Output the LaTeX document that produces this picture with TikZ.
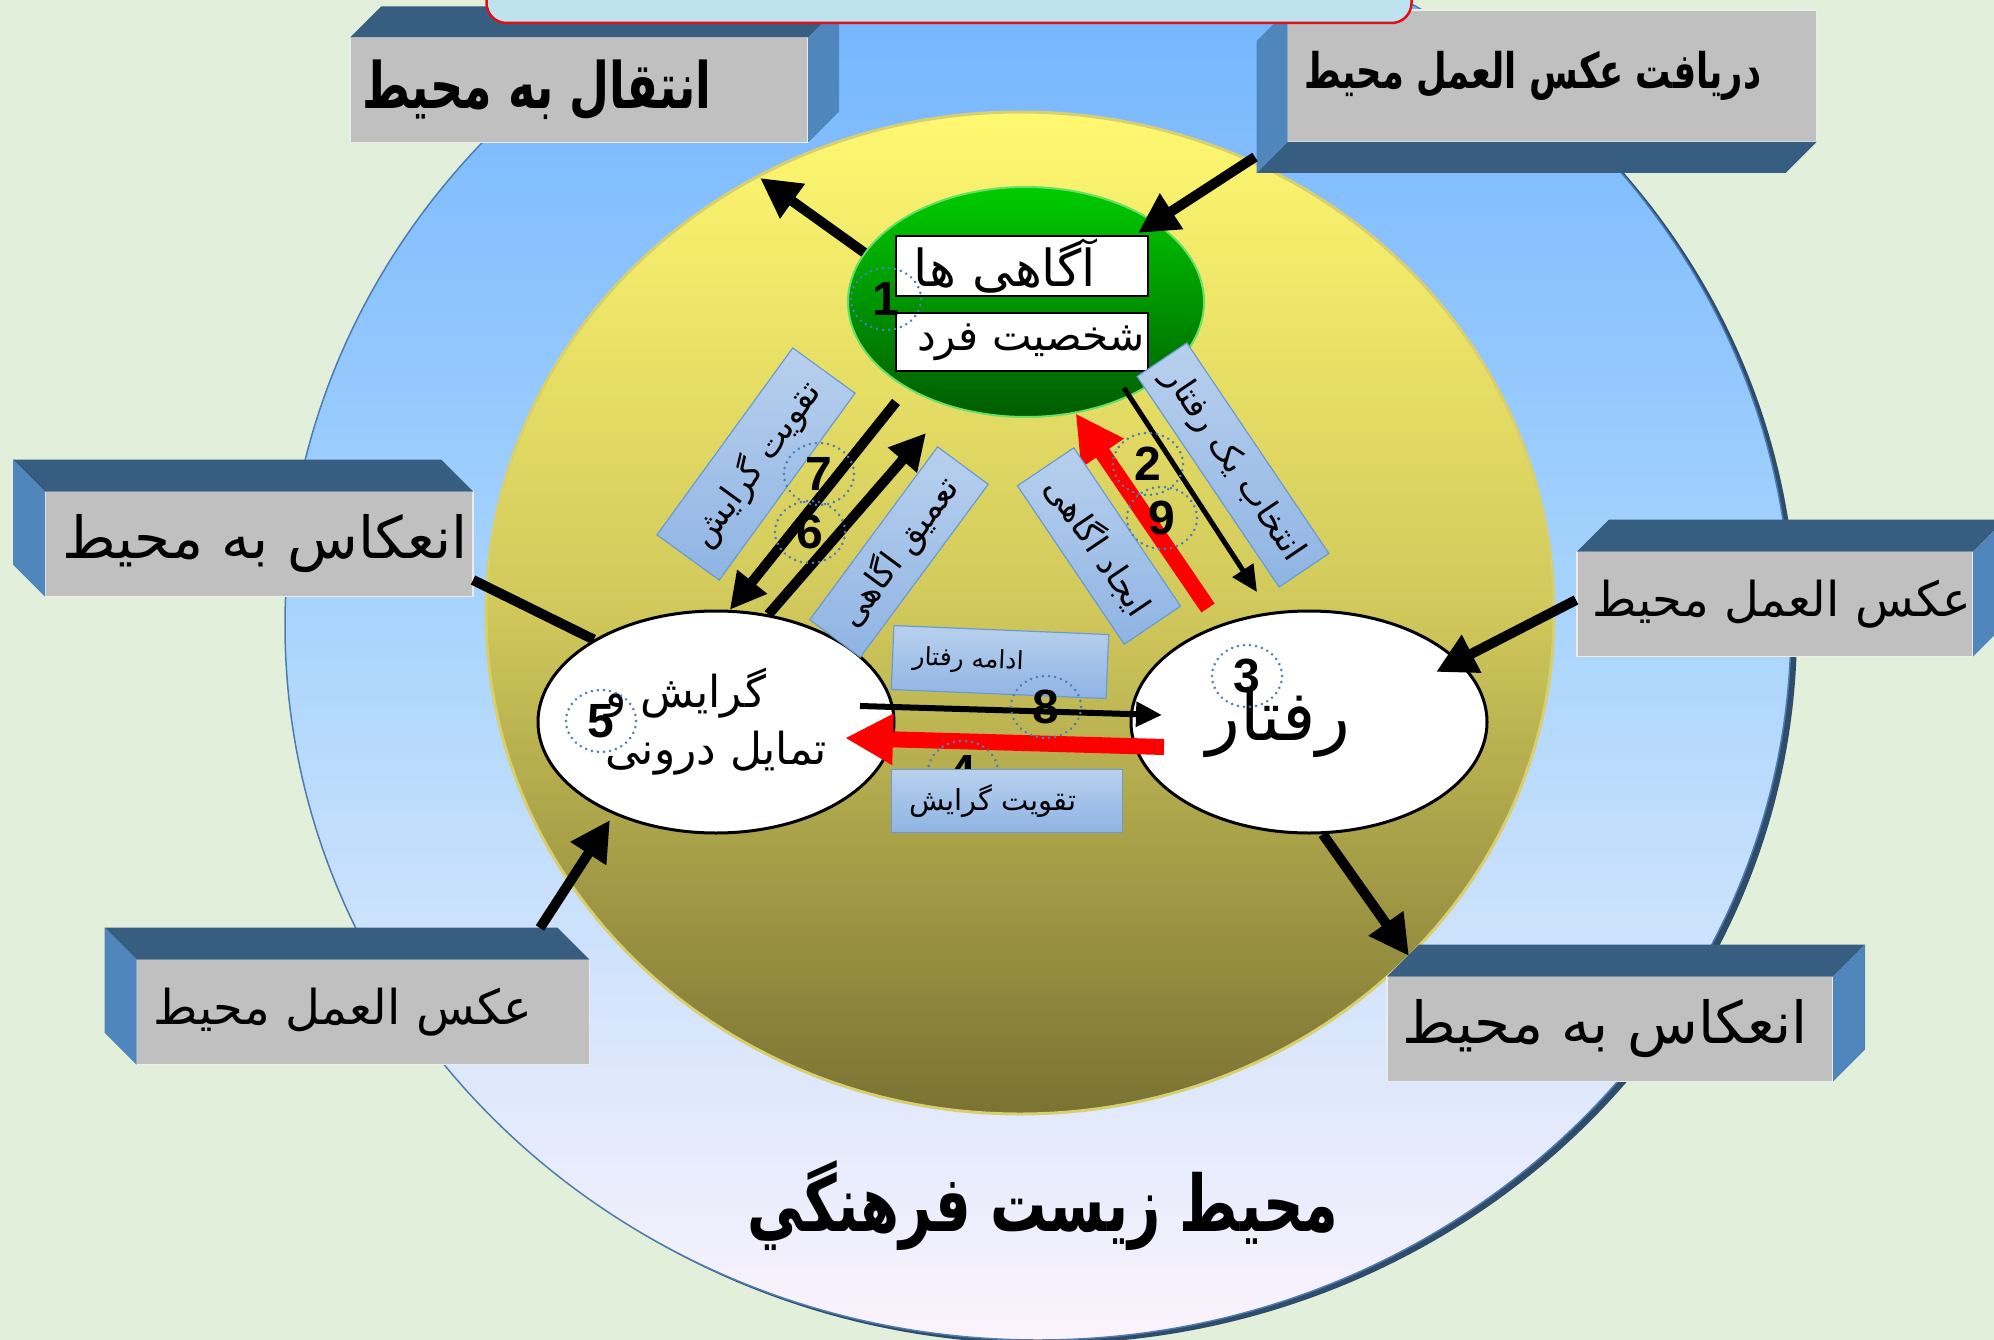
\documentclass[tikz,border=0pt]{standalone}
\usepackage{fontspec}
\setmainfont{Liberation Sans}
\newfontfamily\fa[Script=Arabic]{DejaVu Sans}
\newfontfamily\facond[Script=Arabic,FakeStretch=0.72]{DejaVu Sans}
\TeXXeTstate=1
\usetikzlibrary{arrows.meta,shapes.geometric}

\definecolor{bgcol}{HTML}{E2EFDA}
\definecolor{skytop}{HTML}{6DB1FF}
\definecolor{skymid}{HTML}{A9D5FC}
\definecolor{skybot}{HTML}{FCF3FC}
\definecolor{skyrim}{HTML}{2F4D6B}
\definecolor{yeltop}{HTML}{FFF870}
\definecolor{yelmid}{HTML}{D0C85B}
\definecolor{yelbot}{HTML}{7A7232}
\definecolor{yelrim}{HTML}{D8D070}
\definecolor{grntop}{HTML}{00CC00}
\definecolor{grnbot}{HTML}{005C00}
\definecolor{boxgray}{HTML}{C0C0C0}
\definecolor{boxtop}{HTML}{375E80}
\definecolor{boxside}{HTML}{4F86BB}
\definecolor{lbltop}{HTML}{B8D0EE}
\definecolor{lblbot}{HTML}{8FB4E3}
\definecolor{lblline}{HTML}{6C9BD2}
\definecolor{ringcol}{HTML}{4A7EBB}
\definecolor{bannerfill}{HTML}{BDE4EE}
\definecolor{bannerline}{HTML}{E0101A}

\newcommand\rl[1]{\beginR #1\endR}
% faces of a box: node, top/bottom edge, side edge, depth
\newcommand\faces[4]{%
  \fill[boxtop] (#1.#2 west) -- ++#4 -- ([shift={#4}]#1.#2 east) -- (#1.#2 east) -- cycle;
  \fill[boxside] (#1.north #3) -- ++#4 -- ([shift={#4}]#1.south #3) -- (#1.south #3) -- cycle;}

\begin{document}
\begin{tikzpicture}[x=1pt,y=-1pt,
  front/.style={fill=boxgray,draw=white!85!gray,line width=1.5,inner sep=0,outer sep=0,minimum height=105,font=\fontsize{52}{60}\selectfont\fa},
  oval/.style={ellipse,draw,line width=3,fill=white,minimum width=356,minimum height=222,inner sep=0,font=\fontsize{44}{57}\selectfont\fa},
  tag/.style={draw,line width=2.5,fill=white,minimum width=252,inner sep=0,font=\fontsize{46}{52}\selectfont\fa},
  lbl/.style={draw=lblline,line width=1.2,top color=lbltop,bottom color=lblbot,inner sep=0,font=\fontsize{34}{40}\selectfont\fa},
  ring/.style={ellipse,draw=ringcol,line width=2.8,line cap=round,dash pattern=on 0.1pt off 6pt,minimum width=70,minimum height=62,inner sep=0,font=\fontsize{48}{54}\selectfont\bfseries},
  fat/.style={line width=10,-{Triangle[length=40pt,width=40pt]}},
  slim/.style={line width=5,-{Triangle[length=26pt,width=24pt]}},
  redfat/.style={draw=red,line width=16,-{Triangle[length=48pt,width=48pt]}}]

\clip (0,0) rectangle (1994,1340);
\fill[bgcol] (0,0) rectangle (1994,1340);

% environment
\fill[skyrim] (1044,629) ellipse [x radius=753pt,y radius=715pt];
\shadedraw[top color=skytop,bottom color=skybot,middle color=skymid,draw=skytop!70!black,line width=1.5]
  (1038,625) ellipse [x radius=753pt,y radius=715pt];
\shadedraw[top color=yeltop,bottom color=yelbot,middle color=yelmid,draw=yelrim,line width=3]
  (1020,613) ellipse [x radius=534pt,y radius=501pt];

% boxes
\node[front,minimum width=458,font=\fontsize{64}{70}\selectfont\bfseries\facond] (b1) at (579,90) {\rl{انتقال به محیط}\hspace*{84pt}};
\faces{b1}{north}{east}{(31,-31)}
\node[front,minimum width=529,minimum height=132,font=\fontsize{49}{55}\selectfont\bfseries\facond] (b2) at (1552,76) {\rl{دریافت عکس العمل محیط}\hspace*{38pt}};
\faces{b2}{south}{west}{(-31,31)}
\node[front,minimum width=428,font=\fontsize{58}{64}\selectfont\fa] (b3) at (259,544) {\hspace*{12pt}\rl{انعکاس به محیط}};
\faces{b3}{north}{west}{(-32,-32)}
\node[front,minimum width=396,font=\fontsize{48}{54}\selectfont\fa] (b4) at (1775,604) {\hspace*{14pt}\rl{عکس العمل محیط}};
\faces{b4}{north}{east}{(32,-32)}
\node[front,minimum width=453,font=\fontsize{48}{54}\selectfont\fa] (b5) at (363,1012) {\rl{عکس العمل محیط}\hspace*{40pt}};
\faces{b5}{north}{west}{(-32,-32)}
\node[front,minimum width=446,font=\fontsize{58}{64}\selectfont\fa] (b6) at (1610,1029) {\rl{انعکاس به محیط}\hspace*{10pt}};
\faces{b6}{north}{east}{(32,-32)}

\node[draw=bannerline,fill=bannerfill,line width=2.5,rounded corners=20,minimum width=925,minimum height=70] (banner) at (949,-12) {};

% inner parts
\node[ellipse,minimum width=356,minimum height=230,top color=grntop,bottom color=grnbot,draw=grntop!60!white,line width=2] (green) at (1026,302) {};
\node[tag,minimum height=60,font=\fontsize{51}{56}\selectfont\fa] (k1) at (1022,266) {\rl{آگاهی ها}\hspace*{34pt}};
\node[tag,minimum height=58,font=\fontsize{42}{48}\selectfont\fa] (k2) at (1022,342) {\hspace*{18pt}\rl{شخصیت فرد}};
\node[oval,align=left] (attitude) at (716,722) {\rl{گرایش و}\\\rl{تمایل درونی}};
\node[oval,font=\fontsize{70}{80}\selectfont\fa] (behavior) at (1309,722) {\rl{رفتار}\hspace*{62pt}};

\coordinate (t1) at (760,178);
\coordinate (s2) at (1255,157);
\coordinate (t2) at (1138,233);
\coordinate (s3) at (473,580);
\coordinate (s4) at (1576,600);
\coordinate (t4) at (1436,672);
\coordinate (s5) at (540,928);
\coordinate (t5) at (610,820);
\coordinate (t6) at (1409,956);
\coordinate (s7) at (896,402);
\coordinate (t6i) at (926,433);
\coordinate (s2i) at (1124,388);
\coordinate (t2i) at (1257,592);
\coordinate (s9) at (1208,608);
\coordinate (s8) at (860,706);
\coordinate (t8) at (1162,715);
\coordinate (s4i) at (1164,747);
\coordinate (t4i) at (845,738);

\draw[line width=10] (s3) -- (attitude.146);
\path
  (green.163) edge[fat] (t1)
  (s2) edge[fat] (t2)
  (s4) edge[fat] (t4)
  (s5) edge[fat] (t5)
  (behavior.-83) edge[fat] (t6)
  (s7) edge[fat,-{Triangle[length=36pt,width=36pt]}] (attitude.83)
  (attitude.64) edge[fat,-{Triangle[length=36pt,width=36pt]}] (t6i)
  (s2i) edge[slim] (t2i)
  (s9) edge[redfat] (green.-66)
  (s8) edge[slim,line width=6] (t8)
  (s4i) edge[redfat] (t4i)
  ;

% labels on the links
\node[lbl,rotate=54,minimum width=231,minimum height=77] (l7) at (756,464) {\rl{تقویت گرایش}};
\node[lbl,rotate=53.5,minimum width=215,minimum height=63] (l6) at (899,552) {\rl{تعمیق اگاهی}};
\node[lbl,rotate=-56,minimum width=191,minimum height=68] (l9) at (1099,546) {\rl{ایجاد اگاهی}};
\node[lbl,rotate=-56,minimum width=254,minimum height=60] (l2) at (1233,465) {\rl{انتخاب یک رفتار}};
\node[lbl,rotate=-2.4,minimum width=215,minimum height=64,font=\fontsize{25}{30}\selectfont\fa] (l8) at (1000,662) {\rl{ادامه رفتار}\hspace*{64pt}};

% step numbers
\node[ring] (n1) at (886,299) {1};
\node[ring] (n2) at (1148,464) {2};
\node[ring] (n9) at (1162,518) {9};
\node[ring] (n3) at (1247,676) {3};
\node[ring] (n5) at (601,721) {5};
\node[ring] (n8) at (1046,707) {8};
\node[ring] (n7) at (819,474) {7};
\node[ring] (n6) at (810,532) {6};
\node[ring] (n4) at (963,772) {4};

\node[lbl,minimum width=231,minimum height=63,font=\fontsize{29}{34}\selectfont\fa] (l4) at (1007,801) {\rl{تقویت گرایش}\hspace*{28pt}};

\node[font=\fontsize{78}{86}\selectfont\bfseries\facond] (title) at (1043,1206) {\rl{محیط زیست فرهنگي}};
\end{tikzpicture}
\end{document}
